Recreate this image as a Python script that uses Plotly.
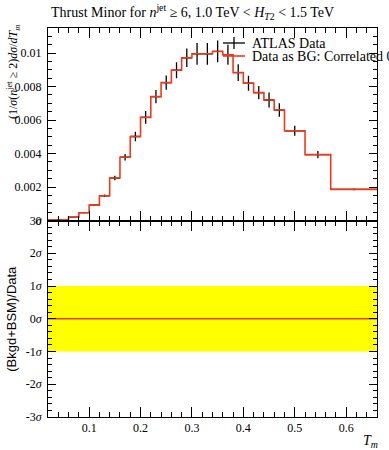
import plotly.graph_objects as go

# ---- data ----
bin_edges = [0.02, 0.06, 0.08, 0.10, 0.12, 0.14, 0.16, 0.18, 0.20, 0.22, 0.24, 0.26,
             0.28, 0.30, 0.32, 0.34, 0.36, 0.38, 0.40, 0.42, 0.44, 0.46, 0.48, 0.52,
             0.57, 0.66]
data_values = [0.00003, 0.0002, 0.00047, 0.00092, 0.00148, 0.00254, 0.00378, 0.00502,
               0.00616, 0.0074, 0.00824, 0.00898, 0.00972, 0.00996, 0.00996, 0.0101,
               0.0099, 0.00884, 0.0082, 0.00764, 0.0072, 0.0066, 0.00536, 0.00394,
               0.00186]
data_errors = [0.00001, 0.00002, 0.00003, 0.00005, 0.00008, 0.00014, 0.0002, 0.00028,
               0.00038, 0.0004, 0.00043, 0.00048, 0.00055, 0.00065, 0.00065, 0.00065,
               0.0006, 0.0005, 0.00045, 0.0004, 0.00045, 0.0004, 0.0003, 0.00022,
               0.00005]
bg_values = [0.00003, 0.0002, 0.00047, 0.00092, 0.00148, 0.00254, 0.00378, 0.00502,
             0.00616, 0.0074, 0.00824, 0.00898, 0.00972, 0.00996, 0.00996, 0.0101,
             0.0099, 0.00884, 0.0082, 0.00764, 0.0072, 0.0066, 0.00536, 0.00394,
             0.00186]
ratio_sigma = [0, 0, 0, 0, 0, 0, 0, 0, 0, 0, 0, 0, 0, 0, 0, 0, 0, 0, 0, 0, 0, 0, 0, 0, 0]
band_upper = [1, 1, 1, 1, 1, 1, 1, 1, 1, 1, 1, 1, 1, 1, 1, 1, 1, 1, 1, 1, 1, 1, 1, 1, 1]
band_lower = [-1, -1, -1, -1, -1, -1, -1, -1, -1, -1, -1, -1, -1, -1, -1, -1, -1, -1,
              -1, -1, -1, -1, -1, -1, -1]

main_ticks = [0, 0.002, 0.004, 0.006, 0.008, 0.01]
main_ticktext = ["0", "0.002", "0.004", "0.006", "0.008", "0.01"]
ratio_ticks = [-3, -2, -1, 0, 1, 2, 3]
ratio_ticktext = ["-3<i>σ</i>", "-2<i>σ</i>", "-1<i>σ</i>", "0<i>σ</i>",
                  "1<i>σ</i>", "2<i>σ</i>", "3<i>σ</i>"]
x_ticks = [0.1, 0.2, 0.3, 0.4, 0.5, 0.6]
x_ticktext = ["0.1", "0.2", "0.3", "0.4", "0.5", "0.6"]

# ---- derived geometry from data ----
centers = [(a + b) / 2 for a, b in zip(bin_edges[:-1], bin_edges[1:])]
halfw = [(b - a) / 2 for a, b in zip(bin_edges[:-1], bin_edges[1:])]

def step(vals):
    return list(vals) + [vals[-1]]

SERIF = "Liberation Serif"
RED = "#ee3a1c"
W, H = 389, 450
ML, MR, MT, MB = 48, 12, 28, 33
PW, PH = W - ML - MR, H - MT - MB

def px(x):
    return (x - ML) / PW

def py(y):
    return (H - MB - y) / PH

fig = go.Figure()

# data points
fig.add_trace(go.Scatter(
    x=centers, y=data_values, mode="markers",
    marker=dict(size=1, color="black"),
    error_x=dict(type="data", array=halfw, width=0, thickness=1.3, color="black"),
    error_y=dict(type="data", array=data_errors, width=0, thickness=1.3, color="black"),
    xaxis="x", yaxis="y", showlegend=False, cliponaxis=True))

# BG histogram
fig.add_trace(go.Scatter(
    x=bin_edges, y=step(bg_values), mode="lines", line_shape="hv",
    line=dict(color=RED, width=1.6), xaxis="x", yaxis="y", showlegend=False))

# ratio band
fig.add_trace(go.Scatter(
    x=bin_edges, y=step(band_lower), mode="lines", line_shape="hv",
    line=dict(width=0, color="#ffff00"), xaxis="x2", yaxis="y2", showlegend=False))
fig.add_trace(go.Scatter(
    x=bin_edges, y=step(band_upper), mode="lines", line_shape="hv",
    line=dict(width=0, color="#ffff00"), fill="tonexty", fillcolor="#ffff00",
    xaxis="x2", yaxis="y2", showlegend=False))
fig.add_trace(go.Scatter(
    x=bin_edges, y=step(ratio_sigma), mode="lines", line_shape="hv",
    line=dict(color=RED, width=1.6), xaxis="x2", yaxis="y2", showlegend=False))

axis_common = dict(showline=True, linecolor="black", linewidth=1, mirror="allticks",
                   ticks="inside", tickcolor="black", showgrid=False, zeroline=False,
                   tickfont=dict(family=SERIF, size=12, color="black"))

split = 0.505
fig.update_layout(
    width=W, height=H,
    margin=dict(l=ML, r=MR, t=MT, b=MB),
    paper_bgcolor="white", plot_bgcolor="white",
    showlegend=False,
    xaxis=dict(domain=[0, 1], range=[0.02, 0.66], anchor="y",
               tickvals=x_ticks, ticktext=x_ticktext, showticklabels=False,
               ticklen=10, minor=dict(tickmode="linear", tick0=0, dtick=0.02,
                                      ticks="inside", ticklen=5, tickcolor="black"),
               **axis_common),
    yaxis=dict(domain=[split, 1], range=[0, 0.0115], anchor="x",
               tickvals=main_ticks, ticktext=main_ticktext, ticklen=8,
               ticklabelstandoff=3,
               minor=dict(tickmode="linear", tick0=0, dtick=0.0005,
                          ticks="inside", ticklen=4, tickcolor="black"),
               **axis_common),
    xaxis2=dict(domain=[0, 1], range=[0.02, 0.66], anchor="y2",
                tickvals=x_ticks, ticktext=x_ticktext, ticklen=10,
                minor=dict(tickmode="linear", tick0=0, dtick=0.02,
                           ticks="inside", ticklen=5, tickcolor="black"),
                **axis_common),
    yaxis2=dict(domain=[0, split], range=[-3, 3], anchor="x2",
                tickvals=ratio_ticks, ticktext=ratio_ticktext, ticklen=8,
                ticklabelstandoff=3,
                minor=dict(tickmode="linear", tick0=0, dtick=0.2,
                           ticks="inside", ticklen=4, tickcolor="black"),
                **axis_common),
)

ann = []
ann.append(dict(text="Thrust Minor for <i>n</i><sup>jet</sup> ≥ 6, 1.0 TeV &lt; <i>H</i><sub><i>T</i>2</sub> &lt; 1.5 TeV",
                x=px(49), y=py(12), xref="paper", yref="paper", xanchor="left",
                yanchor="middle", showarrow=False,
                font=dict(family=SERIF, size=14, color="black")))
ann.append(dict(text="(1/<i>σ</i>(<i>n</i><sup>jet</sup> ≥ 2)<i>dσ</i>/<i>dT</i><sub><i>m</i></sub>",
                x=px(13), y=py(72), xref="paper", yref="paper", xanchor="center",
                yanchor="middle", textangle=-90, showarrow=False,
                font=dict(family=SERIF, size=12, color="black")))
ann.append(dict(text="(Bkgd+BSM)/Data",
                x=px(12), y=split / 2, xref="paper", yref="paper", xanchor="center",
                yanchor="middle", textangle=-90, showarrow=False,
                font=dict(family="Liberation Sans", size=13, color="black")))
ann.append(dict(text="<i>T</i><sub><i>m</i></sub>",
                x=px(380), y=py(441), xref="paper", yref="paper", xanchor="right",
                yanchor="middle", showarrow=False,
                font=dict(family=SERIF, size=14, color="black")))
# legend
ann.append(dict(text="ATLAS Data", x=px(250), y=py(44), xref="paper", yref="paper",
                xanchor="left", yanchor="middle", showarrow=False,
                font=dict(family=SERIF, size=14, color="black")))
ann.append(dict(text="Data as BG: Correlated 0%", x=px(250), y=py(57), xref="paper",
                yref="paper", xanchor="left", yanchor="middle", showarrow=False,
                font=dict(family=SERIF, size=14, color="black")))
fig.update_layout(annotations=ann)

shapes = [
    dict(type="line", xref="paper", yref="paper", x0=px(223), x1=px(245),
         y0=py(43), y1=py(43), line=dict(color="black", width=1.3)),
    dict(type="line", xref="paper", yref="paper", x0=px(234), x1=px(234),
         y0=py(37), y1=py(49), line=dict(color="black", width=1.3)),
    dict(type="line", xref="paper", yref="paper", x0=px(223), x1=px(245),
         y0=py(56), y1=py(56), line=dict(color=RED, width=1.6)),
]
fig.update_layout(shapes=shapes)

fig.write_html("out.html",
               config={"displayModeBar": False},
               post_script="document.body.style.margin='0';"
                           "document.body.style.overflow='hidden';")
